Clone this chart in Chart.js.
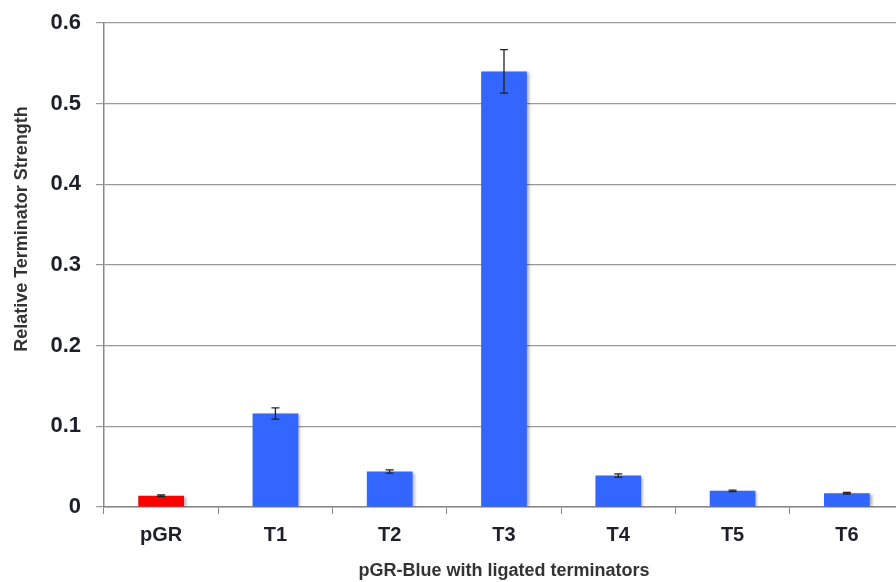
<!DOCTYPE html>
<html>
<head>
<meta charset="utf-8">
<script src="https://cdn.jsdelivr.net/npm/chart.js@4.4.1/dist/chart.umd.min.js"></script>
<style>
  html, body { margin: 0; padding: 0; background: #fff; overflow: hidden; }
  #wrap { position: absolute; left: 0; top: 0; width: 896px; height: 582px; overflow: hidden; }
</style>
</head>
<body>
<div id="wrap"><canvas id="chart" width="906" height="582"></canvas></div>
<script>
const labels = ['pGR', 'T1', 'T2', 'T3', 'T4', 'T5', 'T6'];
const strength = [0.014, 0.116, 0.044, 0.540, 0.039, 0.020, 0.017];
const errors = [0.001, 0.007, 0.002, 0.027, 0.002, 0.001, 0.001];
const barColors = ['#ff0000', '#3366ff', '#3366ff', '#3366ff', '#3366ff', '#3366ff', '#3366ff'];

const fontFamily = '"Liberation Sans", Arial, sans-serif';

// soft drop shadow behind the bars
const shadowPlugin = {
  id: 'barShadow',
  beforeDatasetsDraw(chart) {
    const ctx = chart.ctx;
    ctx.save();
    ctx.shadowColor = 'rgba(0,0,0,0.35)';
    ctx.shadowBlur = 3;
    ctx.shadowOffsetX = 2;
    ctx.shadowOffsetY = 1;
  },
  afterDatasetsDraw(chart) {
    chart.ctx.restore();
  }
};

// error bars drawn from the errors array
const errorBarPlugin = {
  id: 'errorBars',
  afterDatasetsDraw(chart) {
    const ctx = chart.ctx;
    const meta = chart.getDatasetMeta(0);
    const y = chart.scales.y;
    ctx.save();
    ctx.strokeStyle = '#222';
    ctx.lineWidth = 1.3;
    meta.data.forEach((bar, i) => {
      const v = strength[i];
      const e = errors[i];
      const top = y.getPixelForValue(v + e);
      const bot = y.getPixelForValue(v - e);
      const x = bar.x;
      ctx.beginPath();
      ctx.moveTo(x, top); ctx.lineTo(x, bot);
      ctx.moveTo(x - 4, top); ctx.lineTo(x + 4, top);
      ctx.moveTo(x - 4, bot); ctx.lineTo(x + 4, bot);
      ctx.stroke();
    });
    ctx.restore();
  }
};

// y axis title, sitting a little above the axis centre as in the original
const yTitlePlugin = {
  id: 'yTitle',
  afterDraw(chart) {
    const ctx = chart.ctx;
    const area = chart.chartArea;
    ctx.save();
    ctx.translate(22, (area.top + area.bottom) / 2 - 36);
    ctx.rotate(-Math.PI / 2);
    ctx.font = 'bold 18px ' + fontFamily;
    ctx.fillStyle = '#333';
    ctx.textAlign = 'center';
    ctx.textBaseline = 'middle';
    ctx.fillText('Relative Terminator Strength', 0, 0);
    ctx.restore();
  }
};

new Chart(document.getElementById('chart'), {
  type: 'bar',
  data: {
    labels: labels,
    datasets: [{
      data: strength,
      backgroundColor: barColors,
      borderWidth: 0,
      categoryPercentage: 1,
      barPercentage: 0.4
    }]
  },
  plugins: [shadowPlugin, errorBarPlugin, yTitlePlugin],
  options: {
    responsive: false,
    animation: false,
    layout: { padding: { top: 23, right: 2, bottom: 0, left: 0 } },
    plugins: {
      legend: { display: false },
      tooltip: { enabled: false }
    },
    scales: {
      x: {
        afterFit(scale) { scale.height = 75; },
        grid: {
          offset: true,
          drawOnChartArea: false,
          drawTicks: true,
          tickLength: 7,
          color: '#888'
        },
        border: { color: '#888', width: 1.5 },
        ticks: {
          color: '#1f1f2a',
          font: { family: fontFamily, size: 20, weight: 'bold' },
          padding: 9,
          maxRotation: 0
        },
        title: {
          display: true,
          text: 'pGR-Blue with ligated terminators',
          color: '#333',
          font: { family: fontFamily, size: 18, weight: 'bold' },
          padding: { top: 8, bottom: 0 }
        }
      },
      y: {
        min: 0,
        max: 0.6,
        afterFit(scale) {
          scale.width = 104;
          scale.paddingTop = 0;
          scale.paddingBottom = 0;
        },
        grid: {
          color: '#999',
          lineWidth: 1.2,
          tickLength: 8
        },
        border: { color: '#888', width: 1.5 },
        ticks: {
          stepSize: 0.1,
          color: '#1f1f2a',
          padding: 15,
          font: { family: fontFamily, size: 22, weight: 'bold' },
          callback: v => (Math.round(v * 10) / 10).toString()
        }
      }
    }
  }
});
</script>
</body>
</html>
